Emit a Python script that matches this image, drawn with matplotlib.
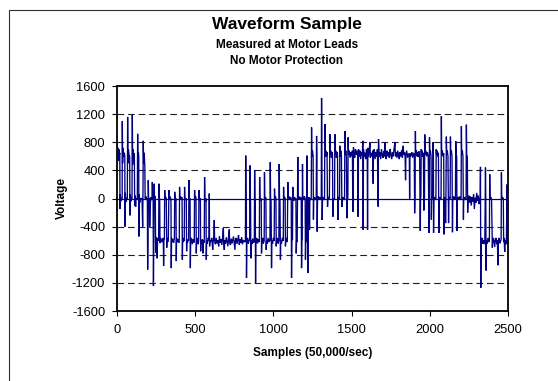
import numpy as np
import matplotlib
matplotlib.use("Agg")
import matplotlib.pyplot as plt
from matplotlib.patches import Rectangle

plt.rcParams['font.family'] = ['Liberation Sans', 'DejaVu Sans']
plt.rcParams['axes.unicode_minus'] = False

# ---- data: (sample, voltage) points, section by section ----
sec_a = [(0,650),(2,780),(4,600),(6,720),(9,540),(12,700),(15,620),(18,650),(19,-150),(21,60),(24,-40),(28,0),
         (33,0),(34,1100),(36,500),(39,720),(43,600),(47,650),(50,600),(51,-400),(53,80),(57,-50),(62,0),
         (66,0),(68,1160),(70,500),(73,700),(77,620),(81,600),(83,-240),(85,60),(89,-40),(94,0),
         (96,0),(98,1190),(100,480),(103,700),(107,600),(111,640),(113,-100),(116,40),(119,-120),(122,0),
         (130,0),(132,920),(134,450),(137,650),(139,600),(140,-540),(142,60),(145,-60),(149,0),
         (160,0),(164,-400),(166,40),(168,820),(170,500),(174,650),(178,450),(180,0)]

sec_b = [(186,30),(190,-20),(194,0),(196,-1010),(198,-550),(200,260),(202,0),(205,-30),(207,0),(209,-400),
         (212,-150),(216,20),(220,-20),(224,0),(226,235),(228,0),(231,0),(233,-1245),(235,-600),(238,210),
         (240,0),(243,30),(245,0),(247,-775),(250,-550),(254,-620),(257,-850),(259,-600),(263,-560),(266,-600),
         (268,210),(270,0),(273,0),(275,-635),(278,-560),(282,-620),(286,-580),(290,-620),(293,-560),(296,-600),
         (298,-960),(300,-600),(303,-580),(305,120),(307,0),(311,20),(315,0),(318,-700),(320,-560),(324,-620),
         (328,-590),(332,120),(334,0),(338,30),(342,-20),(345,0),(347,-990),(349,-560),(353,-620),(358,-580),
         (362,-630),(367,-560),(369,95),(371,0),(374,-30),(377,0),(379,-890),(381,-560),(385,-620),(390,-580),
         (395,-630),(398,-600),(400,165),(402,0),(406,30),(410,-20),(414,20),(416,0),(418,-870),(420,-560),
         (424,-620),(428,-590),(430,-600),(432,165),(434,0),(438,-20),(443,0),(445,-750),(447,-600),(451,-630),
         (455,-580),(458,-600),(460,260),(462,0),(465,-20),(467,0),(469,-990)]

sec_b2 = [(471,-600),(476,-560),(481,-650),(486,-580),(491,-630),(494,-600),(496,120),(498,0),(503,30),(505,0),
          (507,-780),(509,-600),(514,-560),(519,-650),(522,-600),(524,120),(526,0),(531,-20),(533,0),(535,-750),
          (537,-600),(542,-640),(546,-580),(550,-780),(552,-600),(556,-630),(558,-600),(560,305),(562,0),(567,-40),
          (569,0),(571,-870),(573,-600),(578,-640),(583,-560),(588,-600),(590,70),(592,-680),(595,-600),(600,-610)]

sec_c = [(606,-560),(612,-730),(615,-600),(619,-570),(622,-305),(624,-600),(629,-650),(634,-560),(639,-640),
         (645,-590),(650,-680),(655,-540),(660,-630),(665,-580),(670,-660),(675,-560),(680,-420),(682,-620),
         (686,-730),(689,-590),(694,-640),(699,-550),(704,-620),(709,-680),(713,-560),(718,-440),(720,-620),
         (725,-660),(730,-570),(735,-640),(740,-590),(745,-540),(750,-650),(754,-730),(757,-600),(762,-560),
         (767,-640),(772,-590),(777,-520),(782,-660),(787,-580),(792,-630),(797,-550),(802,-650),(807,-590),
         (812,-620),(818,-600)]

sec_d = [(821,-620),(823,610),(825,0),(827,-20),(828,-1130),(830,-600),(835,-560),(840,-640),(845,-590),
         (848,-600),(850,470),(852,0),(854,-30),(856,-850),(858,-600),(863,-650),(868,-570),(873,-630),
         (878,-600),(880,400),(882,0),(884,-20),(886,-1200),(888,-600),(893,-560),(898,-640),(903,-580),
         (908,-620),(910,-600),(912,305),(914,0),(918,-30),(922,0),(924,-780),(926,-600),(931,-560),(936,-640),
         (941,-600),(943,375),(945,0),(950,20),(952,0),(954,-730),(956,-600),(961,-640),(966,-560),(971,-620),
         (976,-590),(978,-600),(980,515),(982,0),(985,-20),(988,-990),(990,-600),(995,-640),(1000,-560),
         (1005,-600),(1007,140),(1009,0),(1013,30),(1016,0),(1018,-680),(1020,-600),(1025,-560),(1030,-640),
         (1035,-600),(1037,490),(1039,0),(1042,-20),(1045,-870),(1047,-600),(1052,-640),(1057,-560),(1063,-600),
         (1065,165),(1067,0),(1072,20),(1075,0),(1077,-680),(1079,-600),(1084,-560),(1089,-620),(1092,235),
         (1094,0),(1099,30),(1104,-20),(1109,20),(1114,0),(1116,-1130),(1118,-600),(1122,-580),(1124,165),
         (1126,0),(1131,-30),(1136,20),(1141,-20),(1144,0),(1146,-780),(1148,-600),(1152,-620),(1156,590),
         (1158,0),(1163,30),(1168,-20),(1173,20),(1178,0),(1180,-990),(1182,-600),(1184,-580),(1186,490),
         (1188,0),(1193,-20),(1198,30),(1203,0),(1205,-870),(1207,-600),(1211,-620),(1214,610),(1216,0),
         (1218,0),(1220,-1060),(1222,-300),(1226,0)]

sec_e = [(1229,20),(1231,-445),(1233,0),(1237,-20),(1242,0),(1244,1010),(1246,600),(1250,680),(1254,600),
         (1256,-300),(1258,0),(1263,20),(1268,-20),(1274,0),(1276,890),(1278,600),(1280,-470),(1282,0),
         (1287,30),(1292,-20),(1297,20),(1302,-20),(1306,0),(1308,1430),(1310,600),(1312,-305),(1314,0),
         (1318,20),(1323,-20),(1327,0),(1329,1060),(1331,600),(1335,680),(1339,600),(1343,660),(1346,-120),
         (1348,0),(1353,20),(1358,0),(1361,915),(1363,620),(1367,680),(1371,580),(1375,660),(1378,620),
         (1380,-260),(1382,0),(1387,-20),(1391,0),(1393,915),(1395,620),(1399,680),(1403,580),(1407,660),
         (1410,620),(1412,-305),(1414,0),(1419,20),(1423,0),(1425,750),(1427,600),(1431,680),(1435,600),
         (1438,-120),(1440,0),(1445,20),(1450,-20),(1455,0),(1457,960),(1459,620),(1463,680),(1467,600),
         (1470,-280),(1472,0),(1476,0),(1478,870),(1480,620),(1485,680),(1490,580),(1495,660),(1500,600),
         (1505,680),(1508,-190),(1510,0),(1512,730),(1515,640)]

sec_f = [(1520,580),(1525,700),(1530,620),(1535,680),(1540,600),(1542,-260),(1544,700),(1548,600),(1553,680),
         (1558,560),(1563,660),(1568,610),(1572,820),(1574,-445),(1576,700),(1580,600),(1585,650),(1590,560),
         (1595,700),(1600,620),(1602,-445),(1604,720),(1608,600),(1612,660),(1617,800),(1620,580),(1625,650),
         (1630,600),(1635,680),(1638,210),(1640,640),(1645,700),(1650,560),(1655,660),(1660,600),(1665,700),
         (1670,-115),(1672,845),(1676,600),(1681,660),(1686,560),(1691,700),(1696,620),(1701,580),(1706,680),
         (1711,600),(1713,800),(1716,620),(1721,560),(1726,680),(1731,600),(1736,660),(1741,580),(1746,700),
         (1751,620),(1756,560),(1761,660),(1766,600),(1771,700),(1777,800),(1780,600),(1785,660),(1790,580),
         (1795,680),(1800,610),(1805,560),(1810,660),(1815,600),(1820,690),(1825,580),(1830,750),(1833,620),
         (1838,660),(1842,600),(1845,260),(1847,620),(1852,680),(1858,580),(1864,640),(1869,600),(1871,0),
         (1873,640),(1878,600),(1885,660),(1890,580),(1896,650),(1901,600)]

sec_g = [(1903,-210),(1905,0),(1908,960),(1910,620),(1914,680),(1918,600),(1922,660),(1926,590),(1930,670),
         (1935,620),(1939,-460),(1941,0),(1943,20),(1945,700),(1947,620),(1951,680),(1955,590),(1959,650),
         (1962,-170),(1964,0),(1966,0),(1968,910),(1970,620),(1975,680),(1980,600),(1985,660),(1990,600),
         (1995,-490),(1997,0),(1998,870),(2000,620),(2004,680),(2008,600),(2010,-300),(2012,0),(2016,20),
         (2019,0),(2021,800),(2023,600),(2024,-490),(2026,0),(2031,20),(2036,-20),(2039,0),(2041,700),
         (2043,620),(2047,680),(2051,600),(2055,650),(2058,-490),(2060,0),(2065,20),(2070,-20),(2072,0),
         (2074,1170),(2076,620),(2080,680),(2085,600),(2089,640),(2091,-510),(2093,0),(2098,20),(2101,-350),
         (2103,0),(2106,880),(2108,620),(2112,680),(2116,600),(2120,-350),(2122,0),(2126,20),(2130,0),
         (2132,880),(2134,620),(2138,680),(2142,600),(2145,-480),(2147,0),(2152,30),(2157,-20),(2162,20),
         (2164,0),(2166,815),(2168,620),(2172,600),(2174,-460),(2176,0),(2181,20),(2186,-20),(2191,30),
         (2196,-20),(2200,0),(2202,1030),(2204,620),(2208,680),(2212,600),(2215,-300),(2217,0),(2222,20),
         (2227,-20),(2232,0),(2234,1050),(2236,620),(2240,600),(2242,-200),(2245,0)]

sec_h = [(2250,40),(2255,-60),(2260,30),(2265,-100),(2270,20),(2275,-40),(2280,60),(2285,-150),(2290,10),
         (2295,-60),(2300,80),(2305,-30),(2310,40),(2315,-80),(2320,0)]

sec_i = [(2322,0),(2324,450),(2326,-1270),(2328,-600),(2333,-560),(2338,-640),(2343,-590),(2348,-650),
         (2352,-580),(2356,440),(2358,0),(2360,-1025),(2362,-600),(2367,-640),(2372,-560),(2377,-620),
         (2381,-600),(2383,345),(2385,0),(2390,20),(2395,-20),(2400,-700),(2402,-600),(2407,-560),(2412,-640),
         (2415,-690),(2418,-600),(2423,-560),(2428,-650),(2432,-600),(2436,-950),(2438,-600),(2443,-560),
         (2448,-640),(2453,-600),(2456,-580),(2458,370),(2460,0),(2465,20),(2470,0),(2472,-620),(2475,-560),
         (2479,-760),(2481,-600),(2486,-650),(2490,-560),(2494,200),(2496,-600),(2498,-680),(2500,-620)]

y_ticks = [-1600, -1200, -800, -400, 0, 400, 800, 1200, 1600]
x_ticks = [0, 500, 1000, 1500, 2000, 2500]
title = "Waveform Sample"
subtitle1 = "Measured at Motor Leads"
subtitle2 = "No Motor Protection"
x_label = "Samples (50,000/sec)"
y_label = "Voltage"

sections = [sec_a, sec_b, sec_b2, sec_c, sec_d, sec_e, sec_f, sec_g, sec_h, sec_i]
pts = np.array([p for s in sections for p in s], dtype=float)
samples, volts = pts[:, 0], pts[:, 1]

W, H = 558, 381
fig = plt.figure(figsize=(W / 100, H / 100), dpi=100)
fig.patch.set_facecolor('white')

# outer chart border
fig.add_artist(Rectangle((9 / W, -0.05), 1.2, 1 - 10 / H + 0.05, transform=fig.transFigure,
                         fill=False, edgecolor='#303030', linewidth=0.8))

ax = fig.add_axes([117 / W, 1 - 311 / H, (508 - 117) / W, (311 - 86) / H])
navy = '#000080'

for yv in y_ticks:
    if yv not in (-1600, 0, 1600):
        ax.axhline(yv, color='#202020', lw=0.8, linestyle=(0, (6, 3.5)), zorder=1)

ax.axhline(0, color=navy, lw=0.9, zorder=2)
ax.plot(samples, volts, color=navy, lw=0.95, zorder=3, solid_joinstyle='miter')

ax.set_xlim(0, 2500)
ax.set_ylim(-1600, 1600)
ax.set_xticks(x_ticks)
ax.set_yticks(y_ticks)
ax.tick_params(axis='both', direction='out', length=3.5, width=0.8, labelsize=9.3, colors='black')
ax.tick_params(axis='x', pad=6)
ax.tick_params(axis='y', pad=5)
for sp in ax.spines.values():
    sp.set_linewidth(1.3)
    sp.set_color('black')

fig.text(287 / W, 1 - 25 / H, title, ha='center', va='center', fontsize=12.5, fontweight='bold')
fig.text(287 / W, 1 - 45 / H, subtitle1, ha='center', va='center', fontsize=8.5, fontweight='bold')
fig.text(287 / W, 1 - 61 / H, subtitle2, ha='center', va='center', fontsize=8.5, fontweight='bold')
fig.text(313 / W, 1 - 353 / H, x_label, ha='center', va='center', fontsize=8.5, fontweight='bold')
fig.text(62 / W, 1 - 198 / H, y_label, ha='center', va='center', rotation=90, fontsize=8.5, fontweight='bold')

fig.savefig('out.png', dpi=100)
